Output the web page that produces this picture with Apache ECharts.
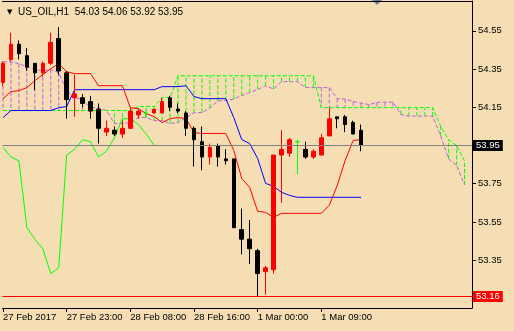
<!DOCTYPE html>
<html>
<head>
<meta charset="utf-8">
<script src="https://cdn.jsdelivr.net/npm/echarts@6/dist/echarts.min.js"></script>
<style>
html,body{margin:0;padding:0;background:#F5DEB3;}
#c{width:514px;height:331px;}
</style>
</head>
<body>
<div id="c"></div>
<script>
// ---- data (bar index k = 0..45 candles, cloud to k = 58) ----
const symbolName = 'US_OIL,H1';
const tickBars = [0, 8, 16, 24, 32, 40];
const tickLabels = ['27 Feb 2017', '27 Feb 23:00', '28 Feb 08:00', '28 Feb 16:00', '1 Mar 00:00', '1 Mar 09:00'];
const priceTicks = [53.15, 53.35, 53.55, 53.75, 53.95, 54.15, 54.35, 54.55];

const opens  = [54.28,54.40,54.48,54.42,54.38,54.33,54.38,54.51,54.33,54.20,54.20,54.18,54.14,54.02,54.03,54.01,54.04,54.11,54.12,54.12,54.12,54.20,54.14,54.12,54.04,53.97,53.89,53.95,53.88,53.88,53.51,53.46,53.40,53.29,53.30,53.90,53.91,53.97,53.93,53.89,53.90,54.00,54.10,54.10,54.07,54.03];
const highs  = [54.39,54.54,54.50,54.46,54.38,54.39,54.54,54.57,54.34,54.32,54.22,54.21,54.17,54.08,54.05,54.08,54.15,54.14,54.13,54.14,54.20,54.21,54.17,54.13,54.05,54.05,53.96,53.96,53.93,53.88,53.62,53.56,53.41,53.32,53.90,54.03,53.99,53.98,53.97,53.93,54.01,54.15,54.10,54.11,54.08,54.06];
const lows   = [54.26,54.39,54.40,54.34,54.24,54.31,54.37,54.32,54.09,54.10,54.15,54.09,53.96,54.00,54.00,53.99,54.04,54.09,54.10,54.12,54.12,54.13,54.12,54.00,53.84,53.82,53.85,53.84,53.85,53.52,53.38,53.33,53.16,53.17,53.28,53.65,53.89,53.80,53.88,53.88,53.90,54.00,54.04,54.02,54.01,53.92];
const closes = [54.38,54.48,54.43,54.36,54.33,54.38,54.49,54.34,54.19,54.22,54.17,54.13,54.04,54.04,54.01,54.04,54.13,54.13,54.12,54.14,54.18,54.15,54.13,54.04,53.98,53.89,53.94,53.89,53.87,53.52,53.46,53.41,53.28,53.31,53.90,53.93,53.98,53.97,53.89,53.92,53.99,54.09,54.09,54.06,54.01,53.95];

const tenkan = [54.195,54.232,54.237,54.253,54.289,54.321,54.352,54.378,54.336,54.326,
                54.326,54.326,54.263,54.263,54.263,54.263,54.148,54.143,54.117,54.101,
                54.070,54.091,54.096,54.091,54.018,54.013,54.013,54.013,54.013,53.924,
                53.778,53.731,53.606,53.600,53.574,53.595,53.595,53.595,53.595,53.595,
                53.595,53.637,53.741,53.872,53.976,53.981];
const kijun  = [54.096,54.133,54.133,54.133,54.133,54.133,54.133,54.148,54.154,54.242,
                54.242,54.242,54.242,54.242,54.242,54.242,54.242,54.242,54.242,54.242,
                54.258,54.258,54.258,54.263,54.206,54.195,54.195,54.195,54.195,54.096,
                53.981,53.960,53.882,53.752,53.736,53.705,53.689,53.679,53.679,53.679,
                53.679,53.679,53.679,53.679,53.679,53.679];
const chikou = [53.94,53.89,53.87,53.52,53.46,53.41,53.28,53.31,53.90,53.93,
                53.98,53.97,53.89,53.92,53.99,54.09,54.09,54.06,54.01,53.95];
const spanA  = [54.388,54.388,54.378,54.362,54.347,54.341,54.347,54.331,54.237,54.201,
                54.190,54.148,54.148,54.133,54.065,54.065,54.070,54.096,54.096,54.080,
                54.080,54.065,54.070,54.096,54.122,54.122,54.146,54.183,54.185,54.193,
                54.211,54.227,54.243,54.263,54.245,54.284,54.284,54.284,54.253,54.253,
                54.253,54.253,54.195,54.193,54.180,54.172,54.164,54.175,54.177,54.177,
                54.112,54.104,54.104,54.104,54.104,54.000,53.880,53.846,53.744];
const spanB  = [54.133,54.133,54.133,54.133,54.133,54.133,54.133,54.133,54.133,54.133,
                54.133,54.133,54.133,54.133,54.133,54.133,54.133,54.154,54.154,54.154,
                54.201,54.201,54.315,54.315,54.315,54.315,54.315,54.315,54.315,54.315,
                54.315,54.315,54.315,54.315,54.315,54.315,54.315,54.315,54.315,54.315,
                54.148,54.148,54.148,54.148,54.148,54.148,54.148,54.148,54.148,54.148,
                54.148,54.148,54.148,54.148,54.148,54.05,53.98,53.95,53.87];
const bidPrice = 53.95;
const hLinePrice = 53.16;

// ---- styles ----
const FONT = 'Liberation Sans';
const FS = 9.5;
const C_A = '#C060E0';
const C_B = '#00FF00';

const idx = a => a.map((v, i) => [i, v]);
const candles = opens.map((o, i) => [i, o, closes[i], lows[i], highs[i]]);
const last = opens.length - 1;
const fmt = v => v.toFixed(2);

const chart = echarts.init(document.getElementById('c'), null, {renderer: 'canvas'});
chart.setOption({
  animation: false,
  backgroundColor: '#F5DEB3',
  textStyle: {fontFamily: FONT},
  title: {
    left: 2, top: 2,
    text: '{t|▼}  ' + symbolName + '  ' + [opens[last], highs[last], lows[last], closes[last]].map(fmt).join(' '),
    textStyle: {
      fontFamily: FONT, fontSize: 10, fontWeight: 'normal', color: '#000',
      rich: {t: {fontSize: 7, color: '#000', fontFamily: 'DejaVu Sans'}}
    }
  },
  graphic: [{
    type: 'polygon', silent: true,
    shape: {points: [[372, 0], [382, 0], [377, 5]]},
    style: {fill: '#6F7F94'}
  }],
  grid: {left: 0, right: 42, top: 1, bottom: 23},
  xAxis: [{
    type: 'value', min: -0.0625, max: 58.9375, position: 'bottom',
    splitLine: {show: false},
    axisLine: {show: true, onZero: false, lineStyle: {color: '#000', width: 1}},
    axisTick: {show: true, customValues: tickBars, length: 4, lineStyle: {color: '#000'}},
    axisLabel: {
      customValues: tickBars, align: 'left', margin: 4, color: '#000',
      fontFamily: FONT, fontSize: FS,
      formatter: v => tickLabels[tickBars.indexOf(Math.round(v))] || ''
    }
  }, {
    type: 'value', min: -0.0625, max: 58.9375, position: 'top',
    splitLine: {show: false},
    axisLine: {show: true, onZero: false, lineStyle: {color: '#000', width: 1}},
    axisTick: {show: false}, axisLabel: {show: false}
  }],
  yAxis: {
    type: 'value', position: 'right', min: 53.09984, max: 54.70599,
    splitLine: {show: false},
    axisLine: {show: true, onZero: false, lineStyle: {color: '#000', width: 1}},
    axisTick: {show: true, customValues: priceTicks, length: 4, lineStyle: {color: '#000'}},
    axisLabel: {customValues: priceTicks, margin: 6, color: '#000', fontFamily: FONT, fontSize: FS,
                formatter: v => v.toFixed(2)}
  },
  series: [
    {
      name: 'cloud', type: 'custom', z: 1, clip: true,
      data: spanA.map((a, i) => [i, a, spanB[i]]),
      encode: {x: 0, y: [1, 2]},
      renderItem: function (params, api) {
        const k = api.value(0), a = api.value(1), b = api.value(2);
        if (a === b) return null;
        const p1 = api.coord([k, a]), p2 = api.coord([k, b]);
        return {
          type: 'line',
          shape: {x1: p1[0], y1: p1[1], x2: p2[0], y2: p2[1]},
          style: {stroke: a > b ? C_A : C_B, lineWidth: 1, lineDash: [4, 2]}
        };
      }
    },
    {name: 'Senkou A', type: 'line', z: 2, data: idx(spanA), showSymbol: false, symbol: 'none',
     lineStyle: {color: C_A, width: 1, type: [4, 2]}},
    {name: 'Senkou B', type: 'line', z: 2, data: idx(spanB), showSymbol: false, symbol: 'none',
     lineStyle: {color: C_B, width: 1, type: [4, 2]}},
    {name: 'Chikou', type: 'line', z: 3, data: idx(chikou), showSymbol: false, symbol: 'none',
     lineStyle: {color: '#00FF00', width: 1}},
    {name: 'Kijun', type: 'line', z: 3, data: idx(kijun), showSymbol: false, symbol: 'none',
     lineStyle: {color: '#0000FF', width: 1}},
    {name: 'Tenkan', type: 'line', z: 3, data: idx(tenkan), showSymbol: false, symbol: 'none',
     lineStyle: {color: '#FF0000', width: 1}},
    {
      name: 'price', type: 'candlestick', z: 4,
      data: candles, encode: {x: 0, y: [1, 2, 3, 4]},
      barWidth: 4,
      itemStyle: {
        color: '#FF0000', color0: '#000000',
        borderColor: '#FF0000', borderColor0: '#000000',
        borderColorDoji: '#00FF00', borderWidth: 1
      },
      markLine: {
        silent: true, symbol: 'none', animation: false, precision: 2,
        data: [
          {yAxis: bidPrice, lineStyle: {color: '#808080', width: 1, type: 'solid'},
           label: {show: true, position: 'end', distance: 1, formatter: fmt(bidPrice),
                   backgroundColor: '#000', color: '#fff', padding: [1, 3, 0, 3],
                   fontFamily: FONT, fontSize: FS}},
          {yAxis: hLinePrice, lineStyle: {color: '#FF0000', width: 1, type: 'solid', opacity: 1},
           label: {show: true, position: 'end', distance: 1, formatter: fmt(hLinePrice),
                   backgroundColor: '#FF0000', color: '#fff', padding: [1, 3, 0, 3],
                   fontFamily: FONT, fontSize: FS}}
        ]
      }
    }
  ]
});
</script>
</body>
</html>
